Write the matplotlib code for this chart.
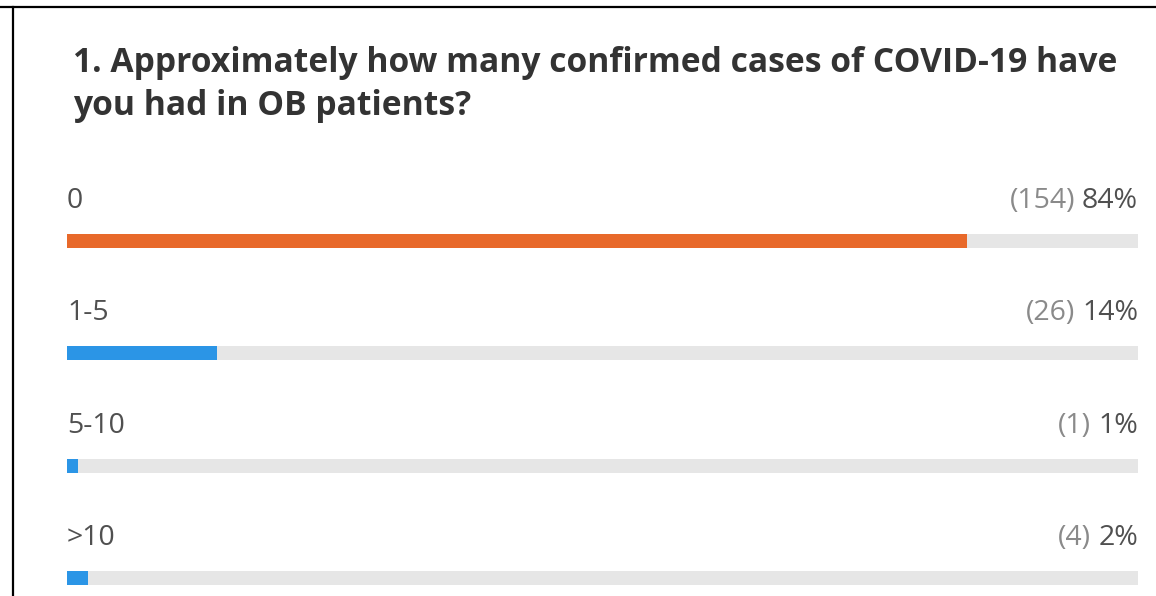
"""
Survey result bar chart - question 1 (COVID-19 cases in OB patients)
"""

import matplotlib
matplotlib.use('Agg')
import matplotlib.pyplot as plt
from matplotlib.lines import Line2D

plt.rcParams['font.family'] = ['Open Sans', 'DejaVu Sans']

# data
title_lines = ['1. Approximately how many confirmed cases of COVID-19 have',
               'you had in OB patients?']
categories = ['0', '1-5', '5-10', '>10']
counts = [154, 26, 1, 4]
percents = [84, 14, 1, 2]
bar_colors = ['#E8692A', '#2B95E6', '#2B95E6', '#2B95E6']

W, H = 1156, 596
fig = plt.figure(figsize=(W / 100, H / 100), dpi=100)

# frame lines (top and left only)
fig.add_artist(Line2D([0, 1], [1 - 7 / H, 1 - 7 / H], color='black', lw=1.6))
fig.add_artist(Line2D([13 / W, 13 / W], [0, 1 - 7 / H], color='black', lw=1.6))

# title
fig.text(73 / W, 1 - 72 / H, title_lines[0], va='baseline', ha='left',
         fontsize=24.2, fontweight='bold', color='#333333')
fig.text(73 / W, 1 - 115 / H, title_lines[1], va='baseline', ha='left',
         fontsize=24.2, fontweight='bold', color='#333333')

# bar area in pixels
x0, x1 = 67, 1138
row0, step = 241, 112.3
ylo, yhi = -1.0, 3.15
top_px = row0 + step * ylo
bot_px = row0 + step * yhi
ax = fig.add_axes([x0 / W, 1 - bot_px / H, (x1 - x0) / W, (bot_px - top_px) / H])
ax.set_xlim(0, 100)
ax.set_ylim(yhi, ylo)
ax.axis('off')

ypos = list(range(len(categories)))
bh = 14 / step

# background track + value bars
ax.barh(ypos, [100] * len(ypos), height=bh, color='#E6E6E6', left=0)
ax.barh(ypos, percents, height=bh, color=bar_colors, left=0)

lab_off = 40 / step
for i, (cat, n, p) in enumerate(zip(categories, counts, percents)):
    ax.text(0, i - lab_off, cat, va='center', ha='left',
            fontsize=20.5, color='#505050')
    t = ax.text(100, i - lab_off, f'{p}%', va='center', ha='right',
                fontsize=20.5, color='#505050')
    ax.annotate(f'({n})', xy=(0, 0.5), xycoords=t, xytext=(-5, 0),
                textcoords='offset points', va='center', ha='right',
                fontsize=20.5, color='#8a8a8a')

plt.savefig('out.png', dpi=100)
